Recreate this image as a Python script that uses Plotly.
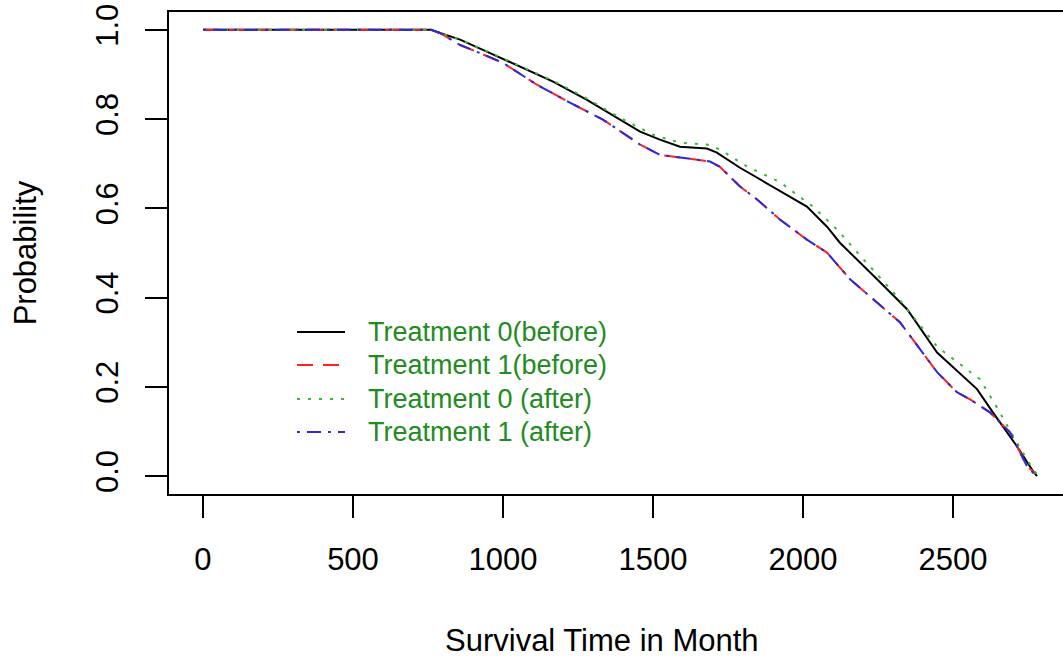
import plotly.graph_objects as go

# ---- data (survival time in months, probability) ----
t0_before_time = [0, 760, 790, 857, 957, 1057, 1167, 1280, 1390, 1457, 1523, 1590, 1680, 1713,
                  1790, 1900, 2013, 2080, 2123, 2247, 2347, 2447, 2580, 2633, 2713, 2767, 2780]
t0_before_prob = [1.0, 1.0, 0.993, 0.978, 0.948, 0.917, 0.884, 0.843, 0.799, 0.772, 0.754, 0.738, 0.734, 0.725,
                  0.691, 0.649, 0.604, 0.559, 0.523, 0.441, 0.374, 0.277, 0.195, 0.143, 0.067, 0.011, 0.0]

t1_before_time = [0, 760, 790, 857, 923, 1000, 1113, 1223, 1333, 1457, 1523, 1623, 1690, 1723,
                  1790, 1847, 1923, 2013, 2080, 2157, 2323, 2447, 2513, 2557, 2623, 2690, 2747, 2775]
t1_before_prob = [1.0, 1.0, 0.993, 0.966, 0.948, 0.926, 0.877, 0.837, 0.799, 0.743, 0.720, 0.711, 0.705, 0.693,
                  0.649, 0.620, 0.575, 0.530, 0.501, 0.441, 0.345, 0.233, 0.188, 0.172, 0.143, 0.098, 0.022, 0.006]

t0_after_time = [0, 760, 790, 857, 957, 1057, 1167, 1280, 1390, 1500, 1590, 1680, 1723,
                 1813, 1923, 2033, 2113, 2200, 2313, 2447, 2590, 2650, 2713, 2767, 2780]
t0_after_prob = [1.0, 1.0, 0.993, 0.978, 0.949, 0.919, 0.886, 0.846, 0.803, 0.765, 0.747, 0.743, 0.732,
                 0.694, 0.659, 0.604, 0.553, 0.487, 0.403, 0.290, 0.217, 0.150, 0.075, 0.015, 0.005]

t1_after_time = [0, 760, 790, 857, 923, 1000, 1113, 1223, 1333, 1457, 1523, 1623, 1690, 1723,
                 1790, 1847, 1923, 2013, 2080, 2157, 2323, 2447, 2513, 2557, 2623, 2690, 2747, 2770, 2790]
t1_after_prob = [1.0, 1.0, 0.993, 0.966, 0.948, 0.926, 0.877, 0.837, 0.799, 0.743, 0.720, 0.711, 0.705, 0.693,
                 0.649, 0.620, 0.575, 0.530, 0.501, 0.441, 0.345, 0.233, 0.188, 0.172, 0.143, 0.098, 0.022, 0.005, 0.003]

series_names = ["Treatment 0(before)", "Treatment 1(before)", "Treatment 0 (after)", "Treatment 1 (after)"]
x_ticks = [0, 500, 1000, 1500, 2000, 2500]
y_ticks = [0.0, 0.2, 0.4, 0.6, 0.8, 1.0]
x_title = "Survival Time in Month"
y_title = "Probability"

colors = ["black", "#ff2020", "#33bb33", "#2a2adb"]
dashes = ["solid", "16px,10px", "3px,8px", "3px,7px,14px,7px"]

series = [
    (t0_before_time, t0_before_prob),
    (t1_before_time, t1_before_prob),
    (t0_after_time, t0_after_prob),
    (t1_after_time, t1_after_prob),
]

fig = go.Figure()
for (tx, py), name, c, d in zip(series, series_names, colors, dashes):
    fig.add_trace(go.Scatter(x=tx, y=py, mode="lines", name=name,
                             line=dict(color=c, width=2, dash=d)))

# layout: plot box from x=169..1063 px, y=12..494 px
L, R, T, B = 169, 1063, 12, 494
W, H = 1063, 662
fig.update_layout(
    width=W, height=H,
    margin=dict(l=L, r=W - R, t=T, b=H - B),
    plot_bgcolor="white", paper_bgcolor="white",
    showlegend=False,
    font=dict(family="Liberation Sans, Arial, sans-serif", size=31, color="black"),
)
fig.update_xaxes(
    range=[-113.3, 2866.7], tickvals=x_ticks, ticktext=[str(v) for v in x_ticks],
    ticks="outside", ticklen=22, tickwidth=2, tickcolor="black",
    showline=True, linewidth=2, linecolor="black", mirror=True,
    showgrid=False, zeroline=False, ticklabelstandoff=15,
)
fig.update_yaxes(
    range=[-0.04, 1.04], tickvals=y_ticks, ticktext=[f"{v:.1f}" for v in y_ticks],
    tickangle=-90,
    ticks="outside", ticklen=22, tickwidth=2, tickcolor="black",
    showline=True, linewidth=2, linecolor="black", mirror=False,
    showgrid=False, zeroline=False, ticklabelstandoff=15,
    title=dict(text=y_title, standoff=44, font=dict(size=31)),
)

def px2paper_x(px):
    return (px - L) / (R - L)

def px2paper_y(py):
    return (B - py) / (B - T)

# x-axis title placed where the reference has it
fig.add_annotation(xref="paper", yref="paper", x=px2paper_x(602), y=px2paper_y(640),
                   text=x_title, showarrow=False, xanchor="center", yanchor="middle",
                   font=dict(size=31, color="black"))

# manual legend (R-style, no box)
row_y = [332, 365, 399, 432]
for name, c, d, ry in zip(series_names, colors, dashes, row_y):
    yy = px2paper_y(ry)
    fig.add_shape(type="line", xref="paper", yref="paper",
                  x0=px2paper_x(297), x1=px2paper_x(345), y0=yy, y1=yy,
                  line=dict(color=c, width=2, dash=d))
    fig.add_annotation(xref="paper", yref="paper", x=px2paper_x(366), y=yy,
                       text=name, showarrow=False, xanchor="left", yanchor="middle",
                       font=dict(size=27, color="#228B22"))

fig.write_html("out.html")
